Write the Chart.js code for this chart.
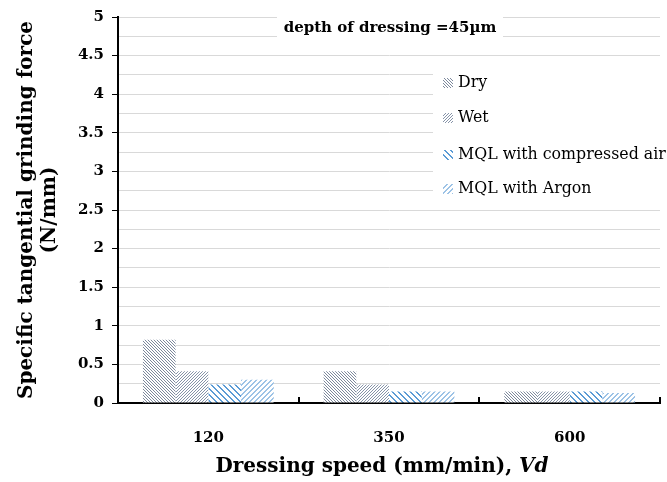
<!DOCTYPE html>
<html>
<head>
<meta charset="utf-8">
<script src="https://cdn.jsdelivr.net/npm/chart.js@4.4.0/dist/chart.umd.min.js"></script>
<style>
  html, body { margin: 0; padding: 0; background: #fff; }
  #wrap { width: 667px; height: 482px; }
</style>
</head>
<body>
<div id="wrap"><canvas id="myChart" width="667" height="482"></canvas></div>
<script>
// dressing speeds (mm/min)
const speeds = ['120', '350', '600'];
// specific tangential grinding force (N/mm)
const dryForce = [0.82, 0.41, 0.15];
const wetForce = [0.41, 0.24, 0.15];
const airForce = [0.24, 0.15, 0.15];
const argonForce = [0.30, 0.15, 0.13];
const seriesNames = ['Dry', 'Wet', 'MQL with compressed air', 'MQL with Argon'];
const yTickLabels = ['0', '0.5', '1', '1.5', '2', '2.5', '3', '3.5', '4', '4.5', '5'];
const chartTitle = 'depth of dressing =45\u00b5m';
const yTitle = ['Specific tangential grinding force', '(N/mm)'];
const xTitle = 'Dressing speed (mm/min), ';
const xTitleItalic = 'Vd';

const SERIF = '"DejaVu Serif", "Liberation Serif", serif';

function hatch(color, size, width, dir) {
    const c = document.createElement('canvas');
    c.width = size; c.height = size;
    const g = c.getContext('2d');
    g.fillStyle = '#fff';
    g.fillRect(0, 0, size, size);
    g.fillStyle = color;
    for (let y = 0; y < size; y++) {
        for (let x = 0; x < size; x++) {
            const k = dir === 'down' ? ((x - y) % size + size) % size : (x + y) % size;
            if (k < width) g.fillRect(x, y, 1, 1);
        }
    }
    return g.createPattern(c, 'repeat');
}

const fills = [
    hatch('#7c889c', 3, 1, 'down'),
    hatch('#8693a8', 3, 1, 'up'),
    hatch('#5b9bd5', 6, 2, 'down'),
    hatch('#9dc3e6', 5, 2, 'up'),
];

const overlay = {
    id: 'overlay',
    afterDraw(chart) {
        const ctx = chart.ctx;
        const x = chart.scales.x;
        const area = chart.chartArea;
        ctx.save();

        // small ticks between categories
        ctx.strokeStyle = '#000';
        ctx.lineWidth = 2;
        for (let i = 0; i < speeds.length; i++) {
            const px = i < speeds.length - 1
                ? (x.getPixelForValue(i) + x.getPixelForValue(i + 1)) / 2
                : area.right;
            ctx.beginPath();
            ctx.moveTo(Math.round(px), area.bottom);
            ctx.lineTo(Math.round(px), area.bottom - 6);
            ctx.stroke();
        }

        // title box
        ctx.fillStyle = '#fff';
        ctx.fillRect(277, 8, 226, 38);
        ctx.fillStyle = '#000';
        ctx.font = 'bold 15px ' + SERIF;
        ctx.textAlign = 'center';
        ctx.textBaseline = 'middle';
        ctx.fillText(chartTitle, 390, 28);

        // legend
        ctx.fillStyle = '#fff';
        ctx.fillRect(433, 64, 229, 143);
        ctx.font = '15.8px ' + SERIF;
        ctx.textAlign = 'left';
        const rows = [83, 118, 155, 189];
        chart.data.datasets.forEach((ds, i) => {
            ctx.fillStyle = ds.backgroundColor;
            ctx.fillRect(443, rows[i] - 5, 10, 10);
            ctx.fillStyle = '#000';
            ctx.fillText(ds.label, 458, rows[i]);
        });

        // x axis title with italic Vd
        ctx.font = 'bold 20px ' + SERIF;
        const w1 = ctx.measureText(xTitle).width;
        ctx.font = 'italic bold 20px ' + SERIF;
        const w2 = ctx.measureText(xTitleItalic).width;
        const start = 382 - (w1 + w2) / 2;
        ctx.fillStyle = '#000';
        ctx.font = 'bold 20px ' + SERIF;
        ctx.fillText(xTitle, start, 467);
        ctx.font = 'italic bold 20px ' + SERIF;
        ctx.fillText(xTitleItalic, start + w1, 467);
        ctx.restore();
    }
};

new Chart(document.getElementById('myChart'), {
    type: 'bar',
    data: {
        labels: speeds,
        datasets: [dryForce, wetForce, airForce, argonForce].map((d, i) => ({
            label: seriesNames[i],
            data: d,
            backgroundColor: fills[i],
            borderWidth: 0,
            barPercentage: 1,
            categoryPercentage: 0.724,
        }))
    },
    options: {
        responsive: false,
        animation: false,
        devicePixelRatio: 1,
        layout: { padding: { top: 17, right: 7, left: 0, bottom: 0 } },
        plugins: {
            legend: { display: false },
            tooltip: { enabled: false },
        },
        scales: {
            x: {
                afterFit: (s) => { s.height = 79; },
                grid: { display: false },
                border: { color: '#000', width: 2 },
                ticks: {
                    color: '#000',
                    padding: 18,
                    font: { family: SERIF, size: 15, weight: 'bold' },
                },
            },
            y: {
                min: 0,
                max: 5,
                afterFit: (s) => { s.width = 118; },
                border: { color: '#000', width: 2 },
                grid: {
                    color: '#d9d9d9',
                    lineWidth: 1,
                    tickLength: 6,
                    tickColor: (c) => (Math.round(c.tick.value * 4) % 2 === 0 ? '#000' : 'rgba(0,0,0,0)'),
                },
                ticks: {
                    stepSize: 0.25,
                    autoSkip: false,
                    color: '#000',
                    padding: 8,
                    font: { family: SERIF, size: 15, weight: 'bold' },
                    callback: (v) => {
                        const k = Math.round(v * 4);
                        return k % 2 === 0 ? yTickLabels[k / 2] : '';
                    },
                },
                title: {
                    display: true,
                    text: yTitle,
                    color: '#000',
                    padding: { top: 15, bottom: 0 },
                    font: { family: SERIF, size: 20, weight: 'bold', lineHeight: 1.15 },
                },
            },
        },
    },
    plugins: [overlay],
});
</script>
</body>
</html>
